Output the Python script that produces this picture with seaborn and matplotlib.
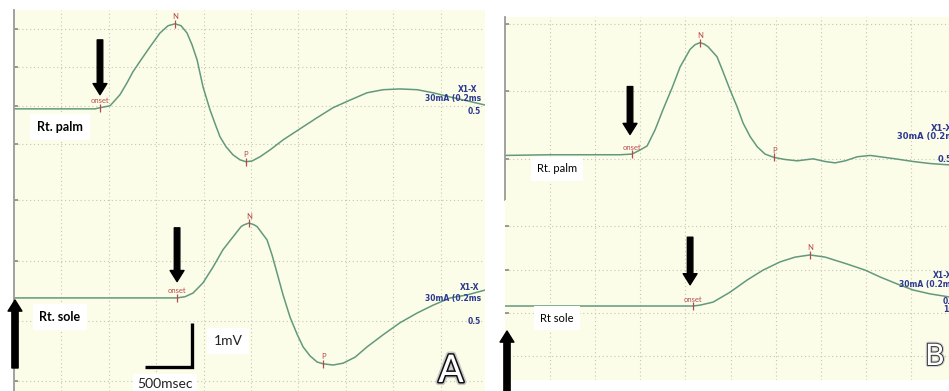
import numpy as np
import pandas as pd
import matplotlib
matplotlib.use("Agg")
import matplotlib.pyplot as plt
import matplotlib.patheffects as pe
import seaborn as sns

W, H = 949, 391

# Sympathetic skin response traces
# time in ms (500 ms per grid division), amplitude in grid divisions from baseline
palm_a_ms = [0, 485, 855, 907, 1013, 1118, 1192, 1255, 1340, 1435, 1540, 1625, 1699, 1762,
             1825, 1878, 1931, 1994, 2068, 2121, 2173, 2237, 2310, 2384, 2447, 2511, 2595,
             2701, 2838, 3017, 3197, 3365, 3545, 3724, 3893, 4072, 4252, 4420, 4600, 4779,
             4969]
palm_a_amp = [0, 0, 0, 0.03, 0.08, 0.37, 0.68, 0.97, 1.28, 1.62, 1.98, 2.17, 2.22, 2.17,
              1.98, 1.67, 1.28, 0.57, -0.03, -0.39, -0.73, -0.99, -1.20, -1.33, -1.38, -1.36,
              -1.25, -1.07, -0.81, -0.52, -0.23, 0.03, 0.23, 0.42, 0.50, 0.52, 0.50, 0.42,
              0.31, 0.21, 0.10]

sole_a_ms = [0, 907, 1593, 1720, 1804, 1888, 1994, 2099, 2205, 2310, 2395, 2427, 2479, 2532,
             2564, 2669, 2722, 2775, 2838, 2912, 2986, 3049, 3123, 3197, 3260, 3365, 3471,
             3598, 3724, 3893, 4072, 4252, 4420, 4600, 4779, 4969]
sole_a_amp = [0, 0, 0, 0, 0.02, 0.08, 0.25, 0.51, 0.80, 1.01, 1.18, 1.21, 1.24, 1.21,
              1.18, 0.96, 0.71, 0.41, 0.05, -0.32, -0.60, -0.81, -0.96, -1.06, -1.09, -1.11,
              -1.08, -0.98, -0.81, -0.61, -0.41, -0.25, -0.12, 0, 0.05, 0.13]

palm_b_ms = [0, 499, 943, 1275, 1408, 1497, 1575, 1664, 1752, 1852, 1941, 2051, 2107, 2162,
             2207, 2251, 2351, 2417, 2495, 2573, 2639, 2717, 2795, 2883, 2983, 3105, 3238,
             3416, 3549, 3660, 3771, 3904, 4048, 4159, 4325, 4525, 4713, 4924]
palm_b_amp = [-0.01, 0, 0, 0, 0.01, 0.07, 0.13, 0.37, 0.67, 0.99, 1.30, 1.56, 1.63, 1.66,
              1.64, 1.60, 1.45, 1.23, 0.96, 0.71, 0.47, 0.27, 0.12, 0.01, -0.04, -0.07, -0.09,
              -0.06, -0.10, -0.12, -0.09, -0.03, -0.01, -0.03, -0.06, -0.10, -0.13, -0.15]

sole_b_ms = [0, 499, 1054, 1608, 2085, 2163, 2307, 2495, 2684, 2861, 3050, 3216, 3382, 3549,
             3793, 3992, 4159, 4347, 4525, 4713, 4924]
sole_b_amp = [0, 0, 0, 0, 0, 0.02, 0.09, 0.32, 0.60, 0.83, 1.02, 1.13, 1.18, 1.13,
              0.97, 0.83, 0.67, 0.51, 0.37, 0.28, 0.21]

# latency markers (ms)
palm_a_marks = {"onset": 907, "N": 1699, "P": 2447}
sole_a_marks = {"onset": 1720, "N": 2479, "P": 3260}
palm_b_marks = {"onset": 1408, "N": 2162, "P": 2983}
sole_b_marks = {"onset": 2085, "N": 3382}

# stimulus info printed by the machine
device_lines = ["X1-X", "30mA (0.2ms", "0.5"]

BG = "#fcfde9"
TRACE = "#62997c"
MARK = "#b54a4a"
INFO = "#2b3990"
AXC = "#9a9a9a"

sns.set_theme(style="white")
plt.rcParams["font.family"] = ["Lato", "DejaVu Sans"]

fig = plt.figure(figsize=(W / 100, H / 100), dpi=100)
fig.patch.set_facecolor("white")


def add_box(box):
    l, t, r, b = box
    return fig.add_axes([l / W, 1 - b / H, (r - l) / W, (b - t) / H])


def fxy(x, y):
    return x / W, 1 - y / H


panels = [
    dict(box=(14, 10, 485, 197), ms=palm_a_ms, amp=palm_a_amp, marks=palm_a_marks,
         xlim=(0, 4968), ylim=(-2.30, 2.58), ygrid=[-0.92, 0.08, 1.08, 2.08], spine=True,
         arrow=(907, 1.80, 0.37), label=("Rt. palm", 60, 127, "bold", 9),
         info=[(458, 90), (425, 98), (468, 112)], info_style=("bold", 5.5)),
    dict(box=(14, 197, 485, 391), ms=sole_a_ms, amp=sole_a_amp, marks=sole_a_marks,
         xlim=(0, 4968), ylim=(-1.54, 1.67), ygrid=[-1.37, -0.38, 0.61, 1.62], spine=True,
         arrow=(1720, 1.16, 0.27), label=("Rt. sole", 60, 317, "bold", 9),
         info=[(460, 287), (425, 298), (468, 321)], info_style=("bold", 5.5)),
    dict(box=(505, 17, 949, 200), ms=palm_b_ms, amp=palm_b_amp, marks=palm_b_marks,
         xlim=(0, 4922), ylim=(-0.67, 2.04), ygrid=[-0.06, 0.95, 1.94], spine=True,
         arrow=(1386, 1.01, 0.30), label=("Rt. palm", 557, 169, "normal", 8),
         info=[(931, 128), (897, 137), (938, 160)], info_style=("bold", 6)),
    dict(box=(505, 200, 949, 380), ms=sole_b_ms, amp=sole_b_amp, marks=sole_b_marks,
         xlim=(0, 4922), ylim=(-1.71, 2.45), ygrid=[-1.16, -0.16, 0.83, 1.85], spine=False,
         arrow=(2052, 1.59, 0.49), label=("Rt sole", 557, 318, "normal", 8),
         info=[(933, 276), (899, 285), (943, 301)], info_style=("bold", 5.5)),
]

axes = []
for p in panels:
    ax = add_box(p["box"])
    axes.append(ax)
    ax.set_facecolor(BG)
    df = pd.DataFrame({"ms": p["ms"], "amp": p["amp"]})
    sns.lineplot(data=df, x="ms", y="amp", ax=ax, color=TRACE, lw=1.1,
                 estimator=None, sort=False, solid_joinstyle="round")
    ax.set_xlim(*p["xlim"])
    ax.set_ylim(*p["ylim"])
    ax.set_xlabel("")
    ax.set_ylabel("")
    ax.set_xticks(np.arange(500, p["xlim"][1], 500))
    ax.set_yticks(p["ygrid"])
    ax.grid(True, color="#c6c6b0", lw=0.8, linestyle=(0, (1, 2.5)))
    ax.tick_params(axis="x", length=0, labelbottom=False)
    ax.tick_params(axis="y", direction="in", length=3, width=1.2, color="#888888",
                   labelleft=False, left=True)
    for s in ["top", "right", "bottom"]:
        ax.spines[s].set_visible(False)
    ax.spines["left"].set_visible(p["spine"])
    ax.spines["left"].set_color(AXC)
    ax.spines["left"].set_linewidth(1.3)

    # latency markers
    for name, t in p["marks"].items():
        v = np.interp(t, p["ms"], p["amp"])
        ax.plot(t, v, marker="|", ms=6, mew=0.9, color=MARK)
        ax.annotate(name, (t, v), xytext=(0, 2.5), textcoords="offset points",
                    ha="center", va="bottom", fontsize=5.5, color=MARK)

    # onset arrow
    t, tail, tip = p["arrow"]
    ax.annotate("", xy=(t, tip), xytext=(t, tail),
                arrowprops=dict(facecolor="black", edgecolor="black", width=4,
                                headwidth=10, headlength=8, shrink=0))

    # machine info text on the right, clipped at the screen edge
    w, fs = p["info_style"]
    for txt, (x, y) in zip(device_lines, p["info"]):
        ax.text(*fxy(x, y), txt, transform=fig.transFigure, ha="left", va="center",
                fontsize=fs, fontweight=w, color=INFO, clip_on=True,
                family=["DejaVu Sans"])

    name, x, y, w, fs = p["label"]
    fig.text(*fxy(x, y), name, ha="center", va="center", fontsize=fs, fontweight=w,
             color="black", bbox=dict(boxstyle="square,pad=0.55", fc="white", ec="none"))

# extra info line on panel B sole
axes[3].text(*fxy(943, 309), "1mV", transform=fig.transFigure, ha="left", va="center",
             fontsize=5.5, fontweight="bold", color=INFO, clip_on=True,
             family=["DejaVu Sans"])

# calibration bar: 500 ms x 1 mV (1 mV = 0.72 division)
SCALE_MS = 500
DIV_PER_MV = 0.72
cx, cy = 1880, -1.14
axes[1].plot([cx - SCALE_MS, cx, cx], [cy, cy, cy + DIV_PER_MV], color="black", lw=2.4,
             solid_capstyle="butt", solid_joinstyle="miter", clip_on=False)
fig.text(*fxy(228, 341), "1mV", ha="center", va="center", fontsize=10, color="#222222",
         bbox=dict(boxstyle="square,pad=0.5", fc="white", ec="none"))
fig.text(*fxy(165, 384), "500msec", ha="center", va="center", fontsize=10, color="#222222",
         bbox=dict(boxstyle="square,pad=0.3", fc="white", ec="none"))

# transparent overlay in figure pixels for the upward stimulus arrows
ov = fig.add_axes([0, 0, 1, 1], zorder=10)
ov.set_xlim(0, W)
ov.set_ylim(H, 0)
ov.axis("off")
ov.patch.set_alpha(0)
for x, tail, tip in [(15, 368, 300), (507, 400, 331)]:
    ov.annotate("", xy=(x, tip), xytext=(x, tail),
                arrowprops=dict(facecolor="black", edgecolor="black", width=4.5,
                                headwidth=10, headlength=8, shrink=0),
                annotation_clip=False)

# panel letters
ov.text(451, 382, "A", ha="center", va="baseline", fontsize=27, color="white",
        family=["DejaVu Sans"],
        path_effects=[pe.Stroke(linewidth=4.5, foreground="#c8c8c8"),
                      pe.Stroke(linewidth=2.2, foreground="#111111"), pe.Normal()])
ov.text(935, 365, "B", ha="center", va="baseline", fontsize=21, color="white",
        family=["DejaVu Sans"],
        path_effects=[pe.Stroke(linewidth=3, foreground="#d0d0d0"),
                      pe.Stroke(linewidth=1.4, foreground="#333333"), pe.Normal()])

fig.savefig("out.png", dpi=100, facecolor="white")
